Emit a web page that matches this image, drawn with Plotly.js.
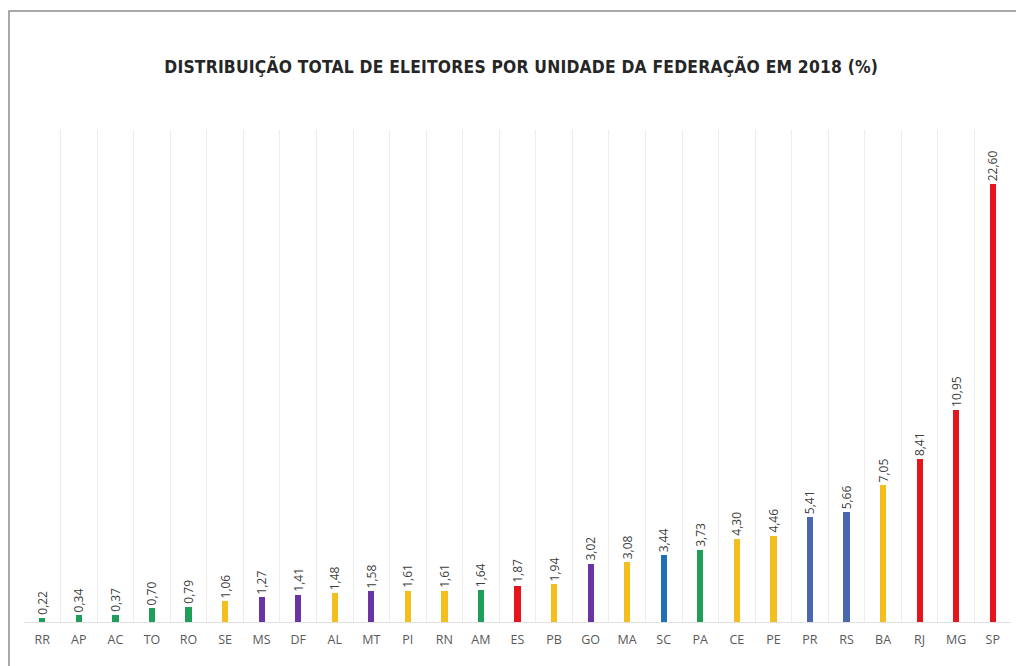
<!DOCTYPE html>
<html>
<head>
<meta charset="utf-8">
<script src="https://cdn.plot.ly/plotly-3.0.1.min.js"></script>
<style>html,body{margin:0;padding:0;background:#fff;}#chart{width:1016px;height:666px;}</style>
</head>
<body>
<div id="chart"></div>
<script>
const states = ["RR","AP","AC","TO","RO","SE","MS","DF","AL","MT","PI","RN","AM","ES","PB","GO","MA","SC","PA","CE","PE","PR","RS","BA","RJ","MG","SP"];
const shares = [0.22,0.34,0.37,0.70,0.79,1.06,1.27,1.41,1.48,1.58,1.61,1.61,1.64,1.87,1.94,3.02,3.08,3.44,3.73,4.30,4.46,5.41,5.66,7.05,8.41,10.95,22.60];
const regions = ["N","N","N","N","N","NE","CO","CO","NE","CO","NE","NE","N","SE","NE","CO","NE","SC","N","NE","NE","S","S","NE","SE","SE","SE"];
const regionColors = {N:"#1e9e58", NE:"#f2bf1f", CO:"#6a34a6", SE:"#e5151b", S:"#4a68b0", SC:"#1f70b8"};

const barColors = regions.map(r => regionColors[r]);
const labels = shares.map(v => v.toFixed(2).replace('.', ','));

const trace = {
  type: 'bar',
  x: states,
  y: shares,
  width: 0.17,
  marker: {color: barColors},
  text: labels,
  textposition: 'outside',
  textangle: -90,
  constraintext: 'none',
  textfont: {family: 'Open Sans, sans-serif', size: 12, color: '#404040'},
  cliponaxis: false,
  hoverinfo: 'x+y'
};

const layout = {
  width: 1016, height: 666,
  margin: {l: 24, r: 5, t: 130, b: 44},
  paper_bgcolor: '#ffffff', plot_bgcolor: '#ffffff',
  showlegend: false,
  title: {
    text: 'DISTRIBUIÇÃO TOTAL DE ELEITORES POR UNIDADE DA FEDERAÇÃO EM 2018 (%)',
    font: {family: 'DejaVu Sans, sans-serif', size: 21, color: '#262626', weight: 'bold'},
    x: 0.513, xanchor: 'center', y: 1 - 67/666, yanchor: 'middle', yref: 'container'
  },
  xaxis: {
    type: 'category',
    tickson: 'boundaries',
    showgrid: true, gridcolor: '#ececec', gridwidth: 1,
    ticks: '', showline: true, linecolor: '#e0e0e0', linewidth: 1,
    ticklabelstandoff: 6,
    tickfont: {family: 'Open Sans, sans-serif', size: 12.5, color: '#595959'},
    fixedrange: true
  },
  yaxis: {
    range: [0, 25.4],
    showgrid: false, zeroline: false, showticklabels: false, ticks: '', showline: false,
    fixedrange: true
  },
  bargap: 0,
  shapes: [{
    type: 'rect', xref: 'paper', yref: 'paper',
    x0: (9 - 24) / 987, x1: 1.2, y0: -0.3, y1: (622 - 11) / 492,
    line: {color: '#8c8c8c', width: 1.5}, fillcolor: 'rgba(0,0,0,0)', layer: 'below'
  }]
};

Plotly.newPlot('chart', [trace], layout, {displayModeBar: false, staticPlot: true}).then(gd => {
  const t = gd.querySelector('.gtitle');
  if (!t) return;
  t.style.fontStretch = '87.5%';
  t.style.letterSpacing = '0.2px';
  // fit the title to the width it has in the reference (about 712 px)
  let w = t.getBBox().width;
  if (w > 0) {
    let size = 21 * 712 / w;
    if (size < 21) { t.style.fontSize = size.toFixed(2) + 'px'; }
  }
});
</script>
</body>
</html>
